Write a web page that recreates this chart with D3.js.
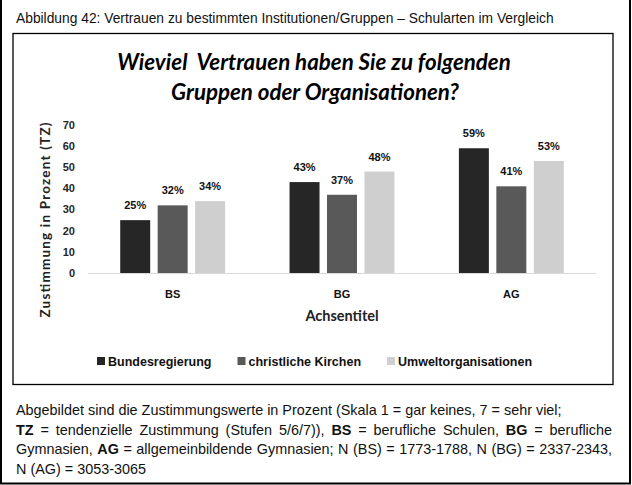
<!DOCTYPE html>
<html><head><meta charset="utf-8">
<script src="https://cdn.jsdelivr.net/npm/d3@7"></script>
<style>body{margin:0;background:#fff}svg{display:block}</style></head>
<body>
<script>
const categories = ["BS", "BG", "AG"];
const seriesNames = ["Bundesregierung", "christliche Kirchen", "Umweltorganisationen"];
const bundesregierung = [25, 43, 59];
const christlicheKirchen = [32, 37, 41];
const umweltorganisationen = [34, 48, 53];
const yTicks = [0, 10, 20, 30, 40, 50, 60, 70];
const seriesValues = [bundesregierung, christlicheKirchen, umweltorganisationen];
const colors = ["#262626", "#595959", "#cfcfcf"];

const W = 632, H = 485;
const svg = d3.select("body").append("svg").attr("width", W).attr("height", H);

// outer frame (left, right, bottom)
svg.append("path").attr("d", `M1,0 V483.5 H630 V0`).attr("fill", "none").attr("stroke", "#000").attr("stroke-width", 2);

// header
svg.append("text").attr("x", 16).attr("y", 23)
  .attr("font-family", "Liberation Sans, Arial, sans-serif").attr("font-size", 13.8).attr("fill", "#111")
  .text("Abbildung 42: Vertrauen zu bestimmten Institutionen/Gruppen \u2013 Schularten im Vergleich");

// chart box
svg.append("rect").attr("x", 13).attr("y", 33.5).attr("width", 600).attr("height", 351)
  .attr("fill", "#fff").attr("stroke", "#000").attr("stroke-width", 1.3);

// title
const titleFont = "Lato, 'Open Sans', sans-serif";
svg.append("text").attr("x", 314).attr("y", 69.5).attr("text-anchor", "middle")
  .attr("font-family", titleFont).attr("font-weight", "bold").attr("font-style", "italic")
  .attr("font-size", 22.3).attr("fill", "#000").attr("xml:space", "preserve")
  .text("Wieviel  Vertrauen haben Sie zu folgenden");
svg.append("text").attr("x", 315).attr("y", 99.5).attr("text-anchor", "middle")
  .attr("font-family", titleFont).attr("font-weight", "bold").attr("font-style", "italic")
  .attr("font-size", 22.3).attr("fill", "#000")
  .text("Gruppen oder Organisationen?");

// scales
const x0 = d3.scaleBand().domain(categories).range([88, 596]).padding(0);
const x1 = d3.scaleBand().domain(seriesNames).range([0, x0.bandwidth()]).paddingInner(0.2).paddingOuter(0.86);
const y = d3.scaleLinear().domain([0, 70]).range([273, 125]);

const boldFont = "Liberation Sans, Arial, sans-serif";

// y tick labels
svg.append("g").selectAll("text").data(yTicks).join("text")
  .attr("x", 75).attr("y", d => y(d)).attr("dy", "0.35em").attr("text-anchor", "end")
  .attr("font-family", boldFont).attr("font-weight", "bold").attr("font-size", 11).attr("fill", "#262626")
  .text(d => d);

// baseline
svg.append("line").attr("x1", 88).attr("x2", 596).attr("y1", y(0) + 0.5).attr("y2", y(0) + 0.5)
  .attr("stroke", "#d9d9d9").attr("stroke-width", 1);

// bars
const groups = svg.append("g").selectAll("g").data(categories).join("g")
  .attr("transform", d => `translate(${x0(d)},0)`);
groups.selectAll("rect").data((c, ci) => seriesNames.map((s, si) => ({s, si, v: seriesValues[si][ci]})))
  .join("rect")
  .attr("x", d => x1(d.s)).attr("width", x1.bandwidth())
  .attr("y", d => y(d.v)).attr("height", d => y(0) - y(d.v))
  .attr("fill", d => colors[d.si]);
groups.selectAll("text.lbl").data((c, ci) => seriesNames.map((s, si) => ({s, si, v: seriesValues[si][ci]})))
  .join("text").attr("class", "lbl")
  .attr("x", d => x1(d.s) + x1.bandwidth() / 2).attr("y", d => y(d.v) - 11)
  .attr("text-anchor", "middle").attr("font-family", boldFont).attr("font-weight", "bold")
  .attr("font-size", 11).attr("fill", "#111")
  .text(d => d.v + "%");

// category labels
svg.append("g").selectAll("text").data(categories).join("text")
  .attr("x", d => x0(d) + x0.bandwidth() / 2).attr("y", 298).attr("text-anchor", "middle")
  .attr("font-family", boldFont).attr("font-weight", "bold").attr("font-size", 11).attr("fill", "#111")
  .text(d => d);

// x axis title
svg.append("text").attr("x", 342).attr("y", 321).attr("text-anchor", "middle")
  .attr("font-family", "Lato, sans-serif").attr("font-weight", "bold").attr("font-size", 14.5).attr("fill", "#222")
  .text("Achsentitel");

// y axis title
svg.append("text").attr("transform", "translate(50,220) rotate(-90)").attr("text-anchor", "middle")
  .attr("font-family", "Lato, sans-serif").attr("font-weight", "bold").attr("font-size", 13.5).attr("fill", "#222")
  .attr("textLength", 195).attr("lengthAdjust", "spacing")
  .text("Zustimmung in Prozent (TZ)");

// legend
let lx = 97;
seriesNames.forEach((s, i) => {
  svg.append("rect").attr("x", lx).attr("y", 357).attr("width", 8).attr("height", 8).attr("fill", colors[i]);
  const t = svg.append("text").attr("x", lx + 11).attr("y", 365.5)
    .attr("font-family", boldFont).attr("font-weight", "bold").attr("font-size", 12.5)
    .attr("fill", "#111").text(s);
  lx = lx + 11 + t.node().getComputedTextLength() + 26;
});

// footer
const footFont = "Liberation Sans, Arial, sans-serif";
const footLines = [
  {parts: [["Abgebildet sind die Zustimmungswerte in Prozent (Skala 1 = gar keines, 7 = sehr viel;", false]], justify: false},
  {parts: [["TZ", true], [" = tendenzielle Zustimmung (Stufen 5/6/7)), ", false], ["BS", true], [" = berufliche Schulen, ", false], ["BG", true], [" = berufliche", false]], justify: true},
  {parts: [["Gymnasien, ", false], ["AG", true], [" = allgemeinbildende Gymnasien; N (BS) = 1773-1788, N (BG) = 2337-2343,", false]], justify: true},
  {parts: [["N (AG) = 3053-3065", false]], justify: false}
];
footLines.forEach((ln, i) => {
  const t = svg.append("text").attr("x", 16).attr("y", 415 + i * 19.7)
    .attr("font-family", footFont).attr("font-size", 14.4).attr("fill", "#111").attr("xml:space", "preserve");
  ln.parts.forEach(p => t.append("tspan").attr("font-weight", p[1] ? "bold" : "normal").text(p[0]));
  if (ln.justify) {
    const len = t.node().getComputedTextLength();
    const spaces = ln.parts.map(p => p[0]).join("").split(" ").length - 1;
    const extra = (612 - 16 - len) / spaces;
    t.style("word-spacing", extra + "px");
  }
});
</script>
</body></html>
